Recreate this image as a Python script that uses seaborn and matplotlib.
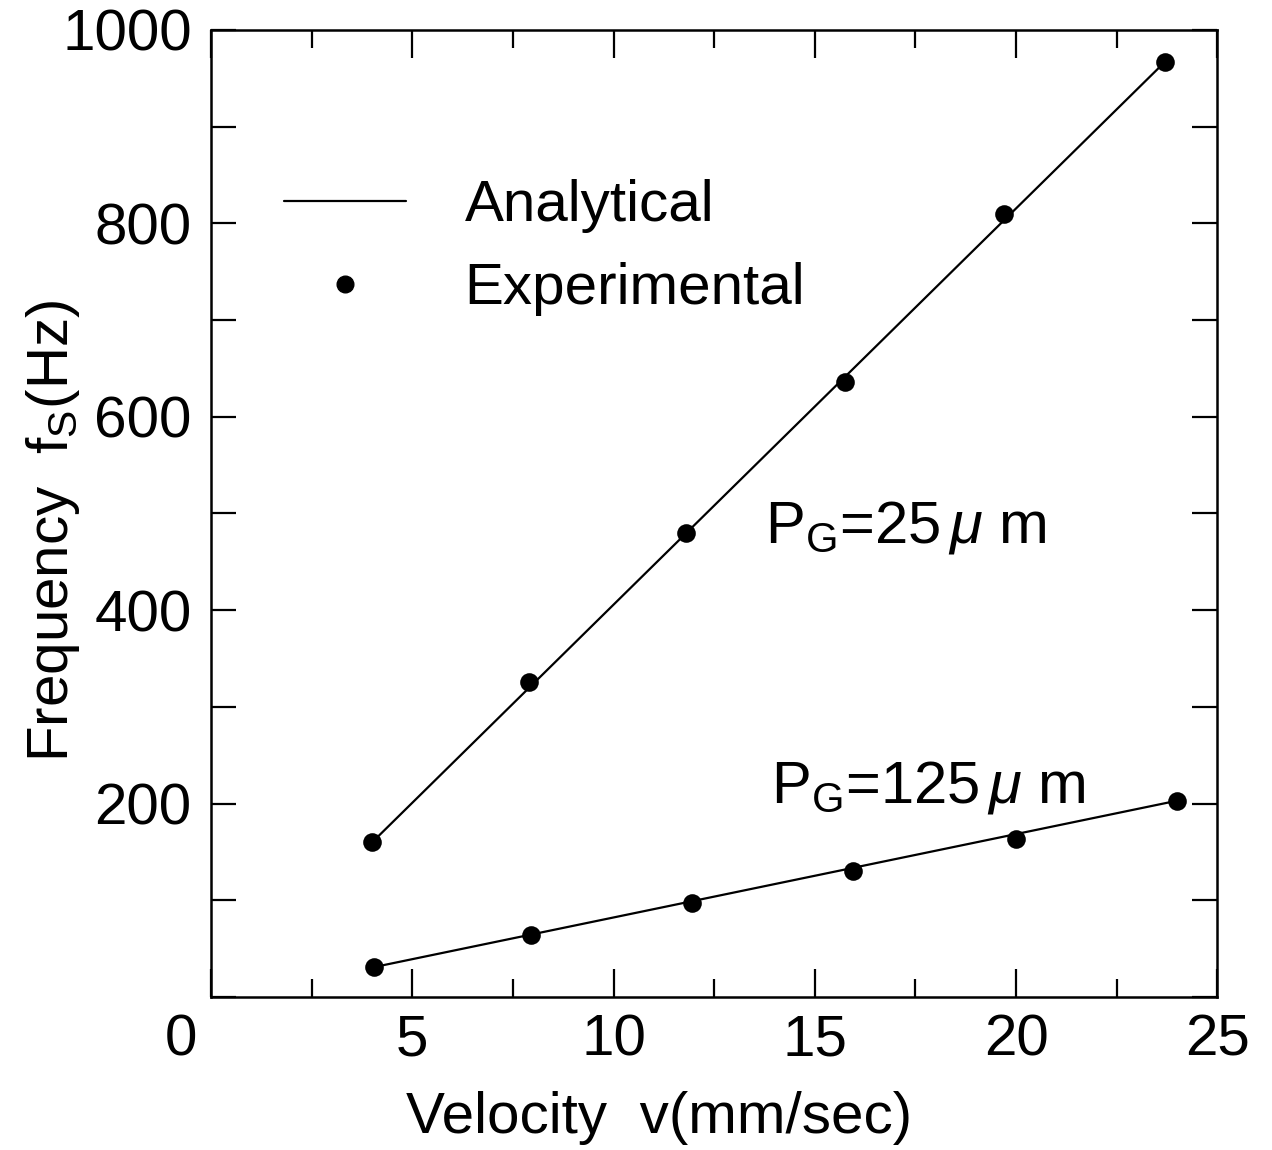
import matplotlib
matplotlib.use("Agg")
import matplotlib.pyplot as plt
import matplotlib.transforms as mtransforms
from matplotlib.lines import Line2D
from matplotlib.ticker import MultipleLocator
import seaborn as sns
import pandas as pd

# ---- data ----
v_exp_25 = [4.0, 7.9, 11.8, 15.75, 19.7, 23.7]
f_exp_25 = [160, 326, 480, 636, 810, 967]
v_exp_125 = [4.05, 7.95, 11.95, 15.95, 20.0, 24.0]
f_exp_125 = [31, 64, 97, 130, 163, 203]

v_ana_25 = [4.0, 23.7]
f_ana_25 = [160, 967]
v_ana_125 = [4.05, 24.0]
f_ana_125 = [31, 203]

x_ticks = [0, 5, 10, 15, 20, 25]
y_ticks = [200, 400, 600, 800, 1000]

sns.set_theme(style="ticks")
plt.rcParams["font.family"] = ["Liberation Sans", "DejaVu Sans"]
plt.rcParams["mathtext.fontset"] = "custom"
plt.rcParams["mathtext.rm"] = "Liberation Sans"
plt.rcParams["mathtext.it"] = "Liberation Sans:italic"
plt.rcParams["text.color"] = "black"
plt.rcParams["axes.labelcolor"] = "black"

FS = 42

fig = plt.figure(figsize=(12.72, 11.5), dpi=100)
ax = fig.add_axes([0.166, 0.133, 0.791, 0.841])

ana = pd.concat([
    pd.DataFrame({"v": v_ana_25, "f": f_ana_25, "s": "25"}),
    pd.DataFrame({"v": v_ana_125, "f": f_ana_125, "s": "125"}),
])
exp = pd.concat([
    pd.DataFrame({"v": v_exp_25, "f": f_exp_25, "s": "25"}),
    pd.DataFrame({"v": v_exp_125, "f": f_exp_125, "s": "125"}),
])

sns.lineplot(data=ana, x="v", y="f", units="s", estimator=None, color="black",
             linewidth=1.6, ax=ax, legend=False)
sns.scatterplot(data=exp, x="v", y="f", color="black", s=180, edgecolor="black",
                linewidth=0, ax=ax, legend=False, zorder=3)

ax.set_xlim(0, 25)
ax.set_ylim(0, 1000)
ax.set_xticks(x_ticks)
ax.set_xticklabels([str(t) for t in x_ticks])
ax.xaxis.set_minor_locator(MultipleLocator(2.5))
ax.set_yticks(y_ticks)
ax.set_yticklabels([str(t) for t in y_ticks])
ax.yaxis.set_minor_locator(MultipleLocator(100))

ax.tick_params(axis="both", which="both", direction="in", top=True, right=True,
               width=1.6, color="black", labelsize=FS, labelcolor="black")
ax.tick_params(axis="x", which="major", length=20, pad=12)
ax.tick_params(axis="x", which="minor", length=13)
ax.tick_params(axis="y", which="major", length=18, pad=14)
ax.tick_params(axis="y", which="minor", length=18)

for sp in ax.spines.values():
    sp.set_linewidth(1.8)
    sp.set_color("black")

# shift the "0" x label left like in the original
lbl0 = ax.get_xticklabels()[0]
lbl0.set_transform(lbl0.get_transform() + mtransforms.ScaledTranslation(-0.3, 0, fig.dpi_scale_trans))

ax.set_xlabel("Velocity  v(mm/sec)", fontsize=FS)
ax.set_ylabel(r"Frequency  f$_{\mathrm{S}}$(Hz)", fontsize=FS)
ax.xaxis.set_label_coords(0.445, -0.097)
ax.yaxis.set_label_coords(-0.128, 0.482)

ax.text(13.75, 486, r"P$_{\mathrm{G}}$=25$\,\mu\,\,$m", fontsize=FS + 1, va="center", ha="left")
ax.text(13.9, 217, r"P$_{\mathrm{G}}$=125$\,\mu\,\,$m", fontsize=FS + 1, va="center", ha="left")

handles = [
    Line2D([], [], color="black", linewidth=1.6),
    Line2D([], [], color="black", marker="o", linestyle="none", markersize=12),
]
ax.legend(handles, ["Analytical", "Experimental"], loc="upper left",
          bbox_to_anchor=(0.02, 0.9), frameon=False, fontsize=FS,
          handlelength=2.1, handletextpad=1.0, labelspacing=0.5)

fig.savefig("out.png", dpi=100)
